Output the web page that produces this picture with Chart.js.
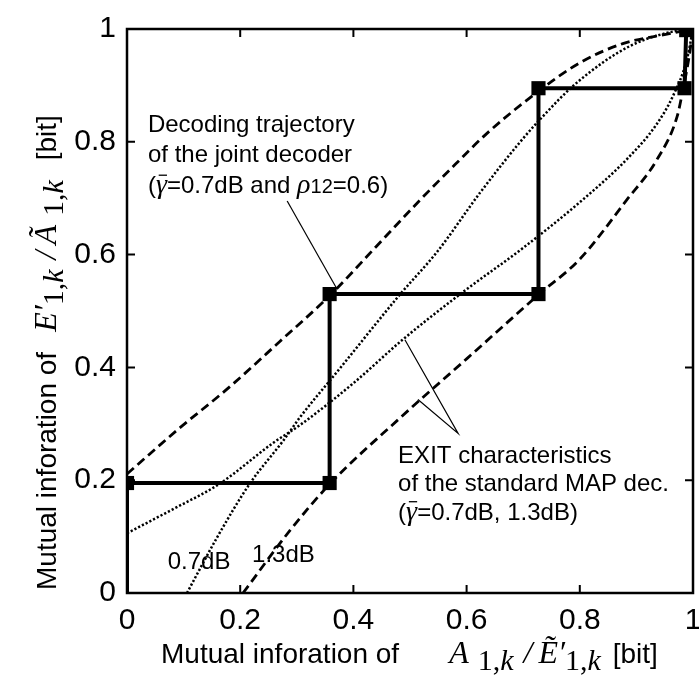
<!DOCTYPE html>
<html>
<head>
<meta charset="utf-8">
<script src="https://cdn.jsdelivr.net/npm/chart.js@4.4.1/dist/chart.umd.min.js"></script>
<style>
  html, body { margin: 0; padding: 0; background: #fff; overflow: hidden; }
  #wrap { width: 699px; height: 684px; overflow: hidden; }
</style>
</head>
<body>
<div id="wrap"><canvas id="exit" width="720" height="684"></canvas></div>
<script>
// Axis tick labels
const xTickLabels = ['0', '0.2', '0.4', '0.6', '0.8', '1'];
const yTickLabels = ['0', '0.2', '0.4', '0.6', '0.8', '1'];

// Decoding trajectory of the joint decoder (staircase)
const trajX = [0, 0, 0.358, 0.358, 0.727, 0.727, 0.985, 0.988];
const trajY = [0, 0.195, 0.195, 0.530, 0.530, 0.895, 0.895, 0.998];

// EXIT characteristic of the standard MAP decoder, 1.3 dB (dashed) and its mirrored counterpart
const exit13X = [0, 0.09, 0.182, 0.27, 0.359, 0.44, 0.518, 0.58, 0.636, 0.717, 0.800, 0.876, 0.954, 1.0];
const exit13Y = [0.211, 0.29, 0.366, 0.446, 0.528, 0.614, 0.697, 0.760, 0.815, 0.882, 0.940, 0.974, 0.991, 1.0];
const exit13mX = [0.205, 0.288, 0.359, 0.482, 0.601, 0.726, 0.800, 0.883, 0.936, 0.972, 0.982, 0.993, 1.0];
const exit13mY = [0, 0.111, 0.194, 0.310, 0.416, 0.528, 0.592, 0.697, 0.768, 0.845, 0.891, 0.950, 1.0];

// EXIT characteristic of the standard MAP decoder, 0.7 dB (dotted) and its mirrored counterpart
const exit07X = [0, 0.08, 0.164, 0.258, 0.306, 0.40, 0.488, 0.594, 0.700, 0.806, 0.883, 0.935, 0.965, 0.989, 1.0];
const exit07Y = [0.106, 0.148, 0.194, 0.266, 0.298, 0.372, 0.450, 0.534, 0.612, 0.698, 0.769, 0.830, 0.882, 0.945, 1.0];
const exit07mX = [0.106, 0.16, 0.217, 0.276, 0.306, 0.376, 0.482, 0.548, 0.624, 0.694, 0.730, 0.795, 0.889, 0.977, 1.0];
const exit07mY = [0, 0.10, 0.194, 0.270, 0.312, 0.398, 0.529, 0.605, 0.710, 0.799, 0.840, 0.905, 0.970, 0.998, 1.0];

const pts = (xs, ys) => xs.map((x, i) => ({ x: x, y: ys[i] }));

const SANS = '"Liberation Sans", Arial, Helvetica, sans-serif';
const SERIF = '"Liberation Serif", "Times New Roman", serif';

// Draw a sequence of differently styled text pieces along one baseline
function drawRuns(ctx, runs, x, y) {
  let cx = x;
  ctx.textBaseline = 'alphabetic';
  ctx.textAlign = 'left';
  for (const r of runs) {
    ctx.font = r.f;
    const w = ctx.measureText(r.t).width;
    const dx = r.dx || 0;
    ctx.fillText(r.t, cx + dx, y + (r.dy || 0));
    if (r.bar) {
      ctx.save();
      ctx.lineWidth = 1.3;
      ctx.beginPath();
      ctx.moveTo(cx + dx + w * 0.25, y - r.bar);
      ctx.lineTo(cx + dx + w * 1.0, y - r.bar);
      ctx.stroke();
      ctx.restore();
    }
    cx += w + dx;
  }
  return cx;
}

// Axis title pieces: plain words in sans, symbols in italic serif with lowered indices
const ft = '28px ' + SANS;
const fm = 'italic 32px ' + SERIF;
const fsub = '30px ' + SERIF;
const fsubi = 'italic 30px ' + SERIF;
function titleRuns(first, firstMark, second, secondMark, gapIn, gapOut) {
  return [
    { t: 'Mutual inforation of', f: ft },
    { t: first, f: fm, dx: gapIn },
    { t: firstMark, f: fm },
    { t: '1,', f: fsub, dx: firstMark ? 0 : 9, dy: 7 },
    { t: 'k', f: fsubi, dy: 7 },
    { t: '/', f: fm, dx: 10 },
    { t: second, f: fm, dx: 6 },
    { t: secondMark, f: fm },
    { t: '1,', f: fsub, dx: secondMark ? 0 : 9, dy: 7 },
    { t: 'k', f: fsubi, dy: 7 },
    { t: '[bit]', f: ft, dx: gapOut }
  ];
}

const frameAndNotes = {
  id: 'frameAndNotes',
  beforeDatasetsDraw(chart) {
    const ctx = chart.ctx;
    const a = chart.chartArea;
    const sx = chart.scales.x, sy = chart.scales.y;
    ctx.save();
    ctx.strokeStyle = '#000';
    ctx.lineWidth = 2.5;
    ctx.strokeRect(a.left, a.top, a.right - a.left, a.bottom - a.top);
    // inward tick marks on all four sides
    ctx.lineWidth = 2;
    const tl = 8;
    ctx.beginPath();
    for (let i = 1; i < xTickLabels.length - 1; i++) {
      const px = sx.getPixelForValue(parseFloat(xTickLabels[i]));
      ctx.moveTo(px, a.bottom); ctx.lineTo(px, a.bottom - tl);
      ctx.moveTo(px, a.top); ctx.lineTo(px, a.top + tl);
    }
    for (let i = 1; i < yTickLabels.length - 1; i++) {
      const py = sy.getPixelForValue(parseFloat(yTickLabels[i]));
      ctx.moveTo(a.left, py); ctx.lineTo(a.left + tl, py);
      ctx.moveTo(a.right, py); ctx.lineTo(a.right - tl, py);
    }
    ctx.stroke();
    ctx.restore();
  },
  afterDatasetsDraw(chart) {
    const ctx = chart.ctx;
    const sx = chart.scales.x, sy = chart.scales.y;
    const X = v => sx.getPixelForValue(v), Y = v => sy.getPixelForValue(v);
    ctx.save();
    ctx.fillStyle = '#000';
    ctx.strokeStyle = '#000';
    ctx.lineWidth = 1.2;

    // leader line to the trajectory
    ctx.beginPath();
    ctx.moveTo(X(0.283), Y(0.695));
    ctx.lineTo(X(0.371), Y(0.539));
    ctx.stroke();

    // leader lines to the two EXIT curves
    ctx.beginPath();
    ctx.moveTo(X(0.491), Y(0.449));
    ctx.lineTo(X(0.585), Y(0.283));
    ctx.lineTo(X(0.514), Y(0.343));
    ctx.stroke();

    const f = '24px ' + SANS;
    const fi = 'italic 28px ' + SERIF;
    const fs = '20px ' + SANS;

    // trajectory note
    let x0 = X(0.037), y0 = Y(0.817);
    drawRuns(ctx, [{ t: 'Decoding trajectory', f: f }], x0, y0);
    drawRuns(ctx, [{ t: 'of the joint decoder', f: f }], x0, y0 + 30);
    drawRuns(ctx, [
      { t: '(', f: f },
      { t: 'γ', f: fi, bar: 18 },
      { t: '=0.7dB and ', f: f },
      { t: 'ρ', f: fi },
      { t: '12', f: fs },
      { t: '=0.6)', f: f }
    ], x0, y0 + 61);

    // EXIT note
    x0 = X(0.479); y0 = Y(0.231);
    drawRuns(ctx, [{ t: 'EXIT characteristics', f: f }], x0, y0);
    drawRuns(ctx, [{ t: 'of the standard MAP dec.', f: f }], x0, y0 + 28);
    drawRuns(ctx, [
      { t: '(', f: f },
      { t: 'γ', f: fi, bar: 18 },
      { t: '=0.7dB, 1.3dB)', f: f }
    ], x0, y0 + 57);

    // curve labels
    drawRuns(ctx, [{ t: '0.7dB', f: f }], X(0.072), Y(0.042));
    drawRuns(ctx, [{ t: '1.3dB', f: f }], X(0.221), Y(0.055));
    ctx.restore();
  },
  afterDraw(chart) {
    const ctx = chart.ctx;
    ctx.save();
    ctx.fillStyle = '#000';
    // x axis title
    drawRuns(ctx, titleRuns('A', '', 'Ẽ', '′', 50, 12), 161, 663);
    // y axis title (rotated)
    ctx.translate(56, 590);
    ctx.rotate(-Math.PI / 2);
    drawRuns(ctx, titleRuns('E', '′', 'Ã', '', 20, 20), 0, 0);
    ctx.restore();
  }
};

const curveBase = {
  borderColor: '#000',
  pointRadius: 0,
  fill: false,
  cubicInterpolationMode: 'monotone',
  borderCapStyle: 'butt'
};

const trajRadius = trajX.map((_, i) => (i === 0 ? 0 : 10));

new Chart(document.getElementById('exit'), {
  type: 'line',
  data: {
    datasets: [
      {
        label: 'Decoding trajectory',
        data: pts(trajX, trajY),
        borderColor: '#000',
        backgroundColor: '#000',
        borderWidth: 4,
        tension: 0,
        pointStyle: 'rect',
        pointRadius: trajRadius,
        pointBorderWidth: 0,
        pointBackgroundColor: '#000',
        order: 0
      },
      Object.assign({ label: 'EXIT 1.3dB', data: pts(exit13X, exit13Y), borderWidth: 2.8, borderDash: [9, 5], order: 1 }, curveBase),
      Object.assign({ label: 'EXIT 1.3dB (mirrored)', data: pts(exit13mX, exit13mY), borderWidth: 2.8, borderDash: [9, 5], order: 1 }, curveBase),
      Object.assign({ label: 'EXIT 0.7dB', data: pts(exit07X, exit07Y), borderWidth: 2.5, borderDash: [2.2, 2], order: 1 }, curveBase),
      Object.assign({ label: 'EXIT 0.7dB (mirrored)', data: pts(exit07mX, exit07mY), borderWidth: 2.5, borderDash: [2.2, 2], order: 1 }, curveBase)
    ]
  },
  options: {
    responsive: false,
    animation: false,
    layout: { padding: { top: 25, right: 27, left: 0, bottom: 0 } },
    plugins: { legend: { display: false }, tooltip: { enabled: false } },
    scales: {
      x: {
        type: 'linear', min: 0, max: 1,
        grid: { display: false, drawTicks: false },
        border: { display: false },
        ticks: {
          stepSize: 0.2, maxRotation: 0, autoSkip: false, padding: 10,
          color: '#000', font: { family: SANS, size: 30 },
          callback: (v, i) => xTickLabels[i]
        },
        afterFit: s => { s.height = 91; }
      },
      y: {
        type: 'linear', min: 0, max: 1,
        grid: { display: false, drawTicks: false },
        border: { display: false },
        ticks: {
          stepSize: 0.2, autoSkip: false, padding: 11,
          color: '#000', font: { family: SANS, size: 30 },
          callback: (v, i) => yTickLabels[i]
        },
        afterFit: s => { s.width = 127; }
      }
    }
  },
  plugins: [frameAndNotes]
});
</script>
</body>
</html>
